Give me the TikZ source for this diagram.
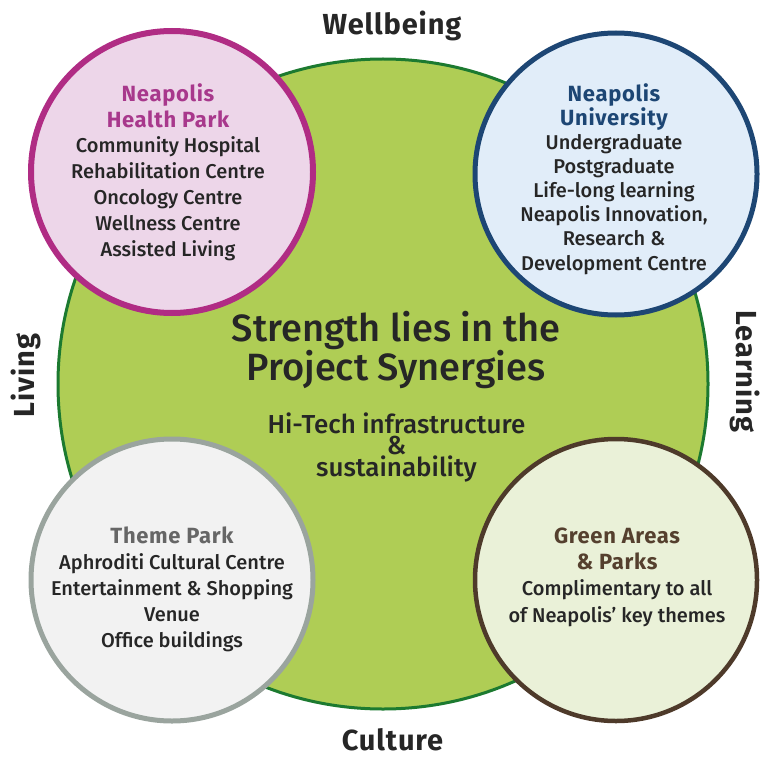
\documentclass[tikz,border=0pt]{standalone}
\usepackage{fontspec}
\setmainfont{Fira Sans}[UprightFont={Fira Sans Medium}, BoldFont={Fira Sans Bold}]
\definecolor{gfill}{HTML}{AFCD55}
\definecolor{gline}{HTML}{1C7A30}
\definecolor{pfill}{HTML}{EDD6E9}
\definecolor{pline}{HTML}{B02C84}
\definecolor{phead}{HTML}{A8388C}
\definecolor{bfill}{HTML}{E1EDF9}
\definecolor{bline}{HTML}{1D4674}
\definecolor{gyfill}{HTML}{F2F2F2}
\definecolor{gyline}{HTML}{9AA49E}
\definecolor{gyhead}{HTML}{666666}
\definecolor{brfill}{HTML}{EAF1D8}
\definecolor{brline}{HTML}{4E3A2A}
\definecolor{brhead}{HTML}{55402E}
\definecolor{txt}{HTML}{262626}
\newcommand{\hd}[2]{\textcolor{#1}{\fontsize{22}{24}\selectfont\bfseries\addfontfeature{LetterSpace=3}#2}}
\tikzset{
  x=1pt, y=-1pt,
  bigcirc/.style={circle, draw=gline, fill=gfill, line width=3pt, minimum size=650pt, inner sep=0pt},
  smallcirc/.style={circle, line width=5pt, minimum size=282pt, inner sep=0pt},
  body/.style={align=center, text=txt, font=\fontsize{20}{25.8}\selectfont, inner sep=0pt},
  theme/.style={text=txt, font=\fontsize{29}{30}\selectfont\bfseries\addfontfeature{LetterSpace=3}, inner sep=0pt},
}
\begin{document}
\begin{tikzpicture}
\useasboundingbox (0,0) rectangle (768,778);
\node[bigcirc] (green) at (383,384) {};
\node[smallcirc, draw=pline, fill=pfill, line width=6pt] (health) at (172,172) {};
\node[smallcirc, draw=bline, fill=bfill] (uni) at (616,174) {};
\node[smallcirc, draw=gyline, fill=gyfill] (theme) at (172,580) {};
\node[smallcirc, draw=brline, fill=brfill, line width=4.5pt] (parks) at (616,580) {};

\node[body] (healthtxt) at (168,172) {\hd{phead}{Neapolis}\\\hd{phead}{Health Park}\\Community Hospital\\Rehabilitation Centre\\Oncology Centre\\Wellness Centre\\Assisted Living};
\node[body, font=\fontsize{20}{24.1}\selectfont] (unitxt) at (614,179) {\hd{bline}{Neapolis}\\\hd{bline}{University}\\Undergraduate\\Postgraduate\\Life-long learning\\Neapolis Innovation,\\Research \&\\Development Centre};
\node[body, font=\fontsize{20}{26}\selectfont] (themetxt) at (172,589.5) {\hd{gyhead}{Theme Park}\\Aphroditi Cultural Centre\\Entertainment \& Shopping\\Venue\\Office buildings};
\node[body, font=\fontsize{20}{26.3}\selectfont] (parkstxt) at (617,577) {\hd{brhead}{Green Areas}\\\hd{brhead}{\& Parks}\\Complimentary to all\\of Neapolis’ key themes};

\node[body, font=\fontsize{38}{39.5}\selectfont] (strength) at (396,350) {Strength lies in the\\Project Synergies};
\node[body, font=\fontsize{26}{21}\selectfont] (hitech) at (396.5,447.5) {Hi-Tech infrastructure\\\&\\sustainability};

\node[theme] (wellbeing) at (392,26) {Wellbeing};
\node[theme] (culture) at (392.5,739.5) {Culture};
\node[theme, rotate=90] (living) at (26,375.5) {Living};
\node[theme, rotate=-90] (learning) at (745,371.5) {Learning};
\end{tikzpicture}
\end{document}
